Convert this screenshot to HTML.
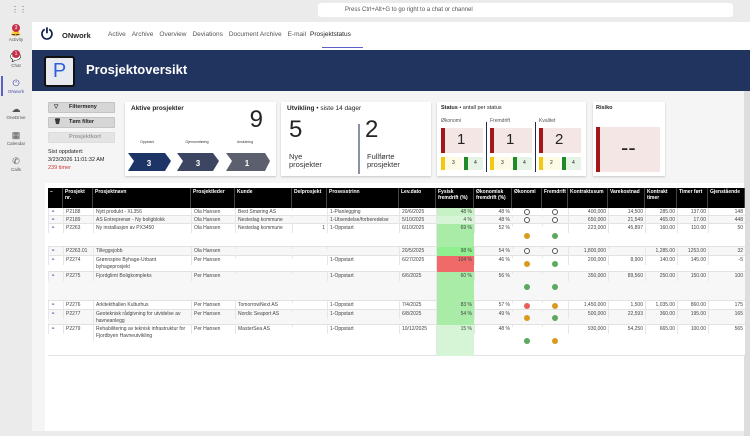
<!DOCTYPE html>
<html><head><meta charset="utf-8"><style>
*{box-sizing:border-box;margin:0;padding:0}
body{width:750px;height:436px;overflow:hidden;background:#ebebeb;font-family:"Liberation Sans",sans-serif;position:relative;color:#242424}
.a{position:absolute}
.card{position:absolute;background:#fff;box-shadow:0 1px 2px rgba(0,0,0,.2)}
.btn{position:absolute;left:48px;width:67px;height:11px;background:#d6d6d6;border:1px solid #c4c4c4;border-radius:1px;font-size:5.5px;font-weight:bold;line-height:9px;padding-left:20px}
.cell{position:absolute;font-size:5px;line-height:7px;padding:1px 2px;overflow:hidden;color:#444}
.hc{position:absolute;font-size:5px;line-height:6px;padding:1px 2px;color:#fff;font-weight:bold;background:#000;border-right:1px solid #444}
.dot{position:absolute;width:6px;height:6px;border-radius:50%;z-index:5}
</style></head><body>
<div class="a" style="left:0;top:0;width:750px;height:22px;background:#ebebeb"></div>
<div class="a" style="left:318px;top:3px;width:415px;height:14px;background:#fff;border-radius:3px;font-size:6px;line-height:14px;padding-left:27px;color:#555">Press Ctrl+Alt+G to go right to a chat or channel</div>
<div class="a" style="left:11px;top:5px;font-size:8px;color:#666">⋮⋮</div>
<div class="a" style="left:0;top:22px;width:32px;height:414px;background:#ebebeb"></div>
<div class="a" style="left:2px;top:26px;width:28px;text-align:center;font-size:4.5px;color:#555"><div style="font-size:9px">🔔</div>Activity</div>
<div class="a" style="left:2px;top:52px;width:28px;text-align:center;font-size:4.5px;color:#555"><div style="font-size:9px">💬</div>Chat</div>
<div class="a" style="left:2px;top:78px;width:28px;text-align:center;font-size:4.5px;color:#4a4fb3"><div style="font-size:9px">⏻</div>ONwork</div>
<div class="a" style="left:1px;top:76px;width:2px;height:20px;background:#5b5fc7"></div>
<div class="a" style="left:2px;top:104px;width:28px;text-align:center;font-size:4.5px;color:#555"><div style="font-size:9px">☁</div>OneDrive</div>
<div class="a" style="left:2px;top:130px;width:28px;text-align:center;font-size:4.5px;color:#555"><div style="font-size:9px">▦</div>Calendar</div>
<div class="a" style="left:2px;top:156px;width:28px;text-align:center;font-size:4.5px;color:#555"><div style="font-size:9px">✆</div>Calls</div>
<div class="a" style="left:12px;top:24px;width:8px;height:8px;border-radius:50%;background:#c4314b;color:#fff;font-size:5px;text-align:center;line-height:8px">3</div>
<div class="a" style="left:12px;top:50px;width:8px;height:8px;border-radius:50%;background:#c4314b;color:#fff;font-size:5px;text-align:center;line-height:8px">1</div>

<div class="a" style="left:32px;top:22px;width:718px;height:28px;background:#fff"></div>
<div class="a" style="left:41px;top:26px;font-size:15px;color:#0b1e4a;font-weight:bold">⏻</div>
<div class="a" style="left:62px;top:31px;font-size:7.5px;font-weight:bold">ONwork</div>
<div class="a" style="left:108px;top:31px;font-size:6.5px;color:#555">
<span style="margin-right:6px">Active</span><span style="margin-right:6px">Archive</span><span style="margin-right:6px">Overview</span><span style="margin-right:6px">Deviations</span><span style="margin-right:6px">Document Archive</span><span style="margin-right:4px">E-mail</span><span style="color:#222">Prosjektstatus</span></div>
<div class="a" style="left:322px;top:47px;width:41px;height:1px;background:#5b5fc7"></div>

<div class="a" style="left:32px;top:50px;width:718px;height:41px;background:#213460"></div>
<div class="a" style="left:44px;top:56px;width:31px;height:31px;background:#e8eaf0;border:2px solid #111;border-radius:3px;color:#2d5fd8;font-size:20px;text-align:center;line-height:27px">P</div>
<div class="a" style="left:86px;top:62px;color:#fff;font-size:13px;font-weight:bold">Prosjektoversikt</div>

<div class="a" style="left:32px;top:91px;width:712px;height:340px;background:#f5f5f5"></div>
<div class="a" style="left:744px;top:91px;width:6px;height:345px;background:#ddd"></div>

<div class="btn" style="top:102px">Filtermeny<span class="a" style="left:5px;top:0">▽</span></div>
<div class="btn" style="top:117px">Tøm filter<span class="a" style="left:5px;top:0">🗑</span></div>
<div class="btn" style="top:132px;background:#e4e4e4;color:#999;border-color:#ddd">Prosjektkort</div>
<div class="a" style="left:48px;top:148px;font-size:5.5px;line-height:8px">Sist oppdatert:<br>3/23/2026 11:01:32 AM<br><span style="color:#d13438">239 timer</span></div>

<div class="card" style="left:125px;top:102px;width:151px;height:74px">
<div class="a" style="left:6px;top:3px;font-size:6.5px;font-weight:bold">Aktive prosjekter</div>
<div class="a" style="left:138px;top:4px;font-size:24px;transform:translateX(-100%)">9</div>
<svg class="a" style="left:0;top:32px" width="151" height="40">
<text x="22" y="9" font-size="3.5" text-anchor="middle" fill="#333">Oppstart</text>
<text x="72" y="9" font-size="3.5" text-anchor="middle" fill="#333">Gjennomføring</text>
<text x="120" y="9" font-size="3.5" text-anchor="middle" fill="#333">Avslutning</text>
<polygon points="3,19 40,19 46,27 40,37 3,37 9,27" fill="#1c3566"/>
<polygon points="52,19 88,19 94,27 88,37 52,37 58,27" fill="#3c4662"/>
<polygon points="101,19 140,19 145,27 140,37 101,37 107,27" fill="#5c5f6e"/>
<text x="24" y="32" font-size="8" fill="#fff" font-weight="bold" text-anchor="middle">3</text>
<text x="73" y="32" font-size="8" fill="#fff" font-weight="bold" text-anchor="middle">3</text>
<text x="122" y="32" font-size="8" fill="#fff" font-weight="bold" text-anchor="middle">1</text>
</svg></div>

<div class="card" style="left:281px;top:102px;width:150px;height:74px">
<div class="a" style="left:6px;top:3px;font-size:6.5px"><b>Utvikling</b> • siste 14 dager</div>
<div class="a" style="left:8px;top:14px;font-size:24px">5</div>
<div class="a" style="left:8px;top:51px;font-size:7.5px;line-height:8px;color:#333">Nye<br>prosjekter</div>
<div class="a" style="left:77px;top:22px;width:2px;height:50px;background:#8a90a8"></div>
<div class="a" style="left:84px;top:14px;font-size:24px">2</div>
<div class="a" style="left:86px;top:51px;font-size:7.5px;line-height:8px;color:#333">Fullførte<br>prosjekter</div>
</div>

<div class="card" style="left:437px;top:102px;width:149px;height:74px">
<div class="a" style="left:4px;top:3px;font-size:5.5px"><b>Status</b> • antall per status</div>
<div id="st"></div></div>

<div class="card" style="left:593px;top:102px;width:72px;height:74px">
<div class="a" style="left:3px;top:3px;font-size:5.5px;font-weight:bold">Risiko</div>
<div class="a" style="left:3px;top:25px;width:64px;height:45px;background:#f5e6e6"></div>
<div class="a" style="left:3px;top:25px;width:4px;height:45px;background:#a4161a"></div>
<div class="a" style="left:28px;top:33px;font-size:22px">--</div>
</div>

<div class="card" style="left:45px;top:183px;width:699px;height:248px;box-shadow:none"></div>
<div id="tbl"></div>

<script>
// status card
const statusNames=["Økonomi","Fremdrift","Kvalitet"];
const statusRed=[1,1,2];
const statusYellow=[3,3,2];
const statusGreen=[4,4,4];
const st=document.getElementById('st');
statusNames.forEach((n,i)=>{
  const x=4+i*49;
  const g=document.createElement('div');
  
  
  g.innerHTML=`<div class="a" style="left:${x}px;top:16px;font-size:5px;color:#555">${n}</div>
  <div class="a" style="left:${x}px;top:26px;width:42px;height:25px;background:#f5e6e6"></div>
  <div class="a" style="left:${x}px;top:26px;width:4px;height:25px;background:#a4161a"></div>
  <div class="a" style="left:${x+16}px;top:29px;font-size:15px">${statusRed[i]}</div>
  <div class="a" style="left:${x}px;top:55px;width:21px;height:13px;background:#fdfbe6"></div>
  <div class="a" style="left:${x}px;top:55px;width:4px;height:13px;background:#f2c811"></div>
  <div class="a" style="left:${x+11}px;top:58px;font-size:5px">${statusYellow[i]}</div>
  <div class="a" style="left:${x+23}px;top:55px;width:19px;height:13px;background:#e8f3e8"></div>
  <div class="a" style="left:${x+23}px;top:55px;width:4px;height:13px;background:#1f8b24"></div>
  <div class="a" style="left:${x+33}px;top:58px;font-size:5px">${statusGreen[i]}</div>`;
  if(i>0){g.innerHTML+=`<div class="a" style="left:${x-4}px;top:20px;width:1px;height:50px;background:#1c2a55"></div>`;}
  st.appendChild(g);
});

// table
const colX=[48,63,93,191,235,292,327,399,436,474,512,542,568,608,645,677,708,745];
const headers=["–","Prosjekt nr.","Prosjektnavn","Prosjektleder","Kunde","Delprosjekt","Prosesstrinn","Lev.dato","Fysisk fremdrift (%)","Økonomisk fremdrift (%)","Økonomi","Fremdrift","Kontraktssum","Varekostnad","Kontrakt timer","Timer ført","Gjenstående"];
const rowH=[8,8,23,9,16,29,9,15,31];
const projNr=["P2188","P2189","P2263","P2263.01","P2274","P2275","P2276","P2277","P2279"];
const projName=["Nytt produkt - XL356","AS Entreprenør - Ny boligblokk","Ny installasjon av PX3450","Tilleggsjobb","Grønnspire Byhage-Urbant byhageprosjekt","Fjordglimt Boligkompleks","Arkitekthallen Kulturhus","Geoteknisk rådgivning for utvidelse av havneanlegg","Rehabilitering av teknisk infrastruktur for Fjordbyen Havneutvikling"];
const leader=["Ola Hansen","Ola Hansen","Ola Hansen","Ola Hansen","Per Hansen","Per Hansen","Per Hansen","Per Hansen","Per Hansen"];
const customer=["Best Smøring AS","Nestedag kommune","Nestedag kommune","","","","TomorrowNext AS","Nordic Seaport AS","MasterSea AS"];
const subproj=["","","1","","","","","",""];
const stage=["1-Planlegging","1-Utsendelse/forberedelse","1-Oppstart","","1-Oppstart","1-Oppstart","1-Oppstart","1-Oppstart","1-Oppstart"];
const dates=["20/6/2025","5/10/2025","6/10/2025","20/5/2025","6/27/2025","6/6/2025","7/4/2025","6/8/2025","10/12/2025"];
const physical=[48,4,69,98,104,60,83,54,15];
const economic=[48,48,52,54,46,56,57,49,48];
const ecoStatus=["none","none","yellow","none","yellow","green","red","yellow","green"];
const progStatus=["none","none","green","none","green","green","yellow","green","yellow"];
const contractSum=["400,000","650,000","223,000","1,800,000","200,000","350,000","1,450,000","500,000","930,000"];
const goodsCost=["14,500","21,549","45,897","","8,900","89,560","1,500","22,593","54,250"];
const contractHours=["285.00","465.00","160.00","1,285.00","140.00","250.00","1,035.00","360.00","665.00"];
const hoursLogged=["137.00","17.00","110.00","1253.00","145.00","150.00","860.00","195.00","100.00"];
const remaining=["148","448","50","32","-5","100","175","165","565"];
const dotColor={red:"#e8605a",yellow:"#d99a1e",green:"#5aa95e"};
const T=document.getElementById('tbl');
function add(html){const d=document.createElement('div');d.innerHTML=html;return T.appendChild(d.firstChild);}
headers.forEach((h,i)=>{
  const e=add(`<div class="hc" style="left:${colX[i]}px;top:188px;width:${colX[i+1]-colX[i]}px;height:20px">${h}</div>`);
  
  
});
let y=208;
projNr.forEach((p,r)=>{
  const h=rowH[r];
  const bg=r%2? '#f7f7f7':'#fff';
  const row=add(`<div class="a" style="left:48px;top:${y}px;width:697px;height:${h}px;background:${bg};border-bottom:1px solid #e2e2e2"></div>`);
  
  
  const vals=["⚭",p,projName[r],leader[r],customer[r],subproj[r],stage[r],dates[r],physical[r]+" %",economic[r]+" %","","",contractSum[r],goodsCost[r],contractHours[r],hoursLogged[r],remaining[r]];
  vals.forEach((v,i)=>{
    const right=(i==5||i>=8);
    let extra='';
    if(i==8){
      const pv=physical[r];
      const c=pv>100?'#f06a6a':(pv>=90?'#90f090':(pv>=50?'#a8eca8':(pv>=20?'#c6f2c6':'#d6f5d6')));
      extra=`background:${c};height:${h}px;`;
    }
    const c=add(`<div class="cell" style="left:${colX[i]}px;top:${y}px;width:${colX[i+1]-colX[i]}px;${right?'text-align:right;':''}${i==0?'color:#6a6fc0;':''}${extra}border-left:1px solid #e6e6e6">${v}</div>`);
    
    
  });
  [[ecoStatus[r],527],[progStatus[r],555]].forEach(([s,cx])=>{
    const cy=s==='none'? y+1 : Math.round(y+h/2-3);
    const d=add(`<div class="dot" style="left:${cx-3}px;top:${cy}px;${s==='none'?'border:0.7px solid #555;background:#fff':'background:'+dotColor[s]}"></div>`);
    
    
  });
  y+=h;
});
</script>
</body></html>
